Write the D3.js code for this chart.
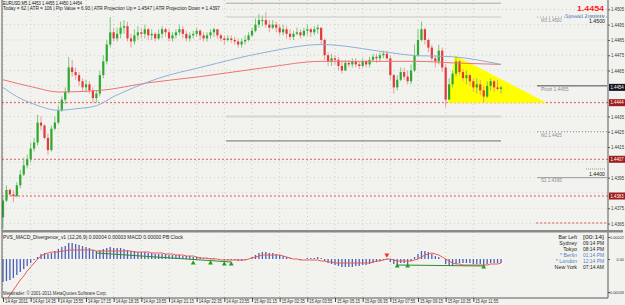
<!DOCTYPE html>
<html>
<head>
<meta charset="utf-8">
<script src="https://cdn.jsdelivr.net/npm/d3@7"></script>
<style>
  body { margin: 0; background: #f2f3ef; }
  svg { display: block; font-family: "Liberation Sans", Arial, sans-serif; }
</style>
</head>
<body>
<svg id="chart" width="625" height="305"></svg>
<script>
// EURUSD M5 bars
const opens = [1.4369,1.4380,1.4387,1.4384,1.4383,1.4390,1.4397,1.4403,1.4407,1.4414,
  1.4418,1.4431,1.4429,1.4421,1.4413,1.4427,1.4431,1.4439,1.4446,1.4451,
  1.4467,1.4464,1.4462,1.4458,1.4454,1.4456,1.4452,1.4447,1.4450,1.4462,
  1.4471,1.4482,1.4490,1.4486,1.4489,1.4493,1.4494,1.4486,1.4484,1.4488,
  1.4490,1.4489,1.4492,1.4488,1.4489,1.4486,1.4489,1.4492,1.4490,1.4486,
  1.4488,1.4490,1.4492,1.4489,1.4486,1.4488,1.4489,1.4491,1.4488,1.4486,
  1.4488,1.4490,1.4492,1.4488,1.4486,1.4485,1.4486,1.4485,1.4484,1.4482,
  1.4484,1.4485,1.4488,1.4491,1.4495,1.4498,1.4498,1.4495,1.4493,1.4495,
  1.4493,1.4490,1.4492,1.4489,1.4487,1.4489,1.4490,1.4488,1.4491,1.4492,
  1.4490,1.4492,1.4493,1.4485,1.4475,1.4471,1.4473,1.4472,1.4468,1.4465,
  1.4470,1.4469,1.4471,1.4469,1.4468,1.4471,1.4469,1.4472,1.4474,1.4473,
  1.4475,1.4476,1.4473,1.4462,1.4454,1.4459,1.4464,1.4461,1.4458,1.4465,
  1.4475,1.4485,1.4492,1.4485,1.4480,1.4473,1.4471,1.4478,1.4467,1.4446,
  1.4456,1.4463,1.4471,1.4464,1.4460,1.4462,1.4458,1.4454,1.4456,1.4452,
  1.4448,1.4455,1.4458,1.4454,1.4453];
const highs = [1.4382,1.4390,1.4388,1.4387,1.4392,1.4400,1.4408,1.4410,1.4418,1.4421,
  1.4436,1.4435,1.4430,1.4424,1.4429,1.4435,1.4442,1.4448,1.4454,1.4474,
  1.4472,1.4467,1.4464,1.4460,1.4459,1.4458,1.4454,1.4452,1.4465,1.4475,
  1.4485,1.4500,1.4493,1.4493,1.4497,1.4498,1.4497,1.4489,1.4492,1.4494,
  1.4493,1.4495,1.4493,1.4492,1.4490,1.4492,1.4494,1.4493,1.4492,1.4490,
  1.4492,1.4495,1.4494,1.4491,1.4490,1.4491,1.4493,1.4492,1.4490,1.4490,
  1.4492,1.4493,1.4492,1.4489,1.4488,1.4488,1.4488,1.4487,1.4486,1.4486,
  1.4488,1.4490,1.4493,1.4499,1.4502,1.4501,1.4503,1.4498,1.4498,1.4497,
  1.4495,1.4495,1.4494,1.4492,1.4491,1.4493,1.4492,1.4493,1.4495,1.4493,
  1.4494,1.4495,1.4493,1.4486,1.4477,1.4476,1.4475,1.4474,1.4472,1.4472,
  1.4472,1.4473,1.4473,1.4471,1.4473,1.4472,1.4474,1.4476,1.4476,1.4477,
  1.4478,1.4478,1.4475,1.4463,1.4462,1.4467,1.4467,1.4465,1.4469,1.4482,
  1.4492,1.4497,1.4493,1.4486,1.4482,1.4475,1.4482,1.4480,1.4469,1.4460,
  1.4465,1.4474,1.4472,1.4466,1.4465,1.4463,1.4460,1.4460,1.4459,1.4455,
  1.4458,1.4460,1.4459,1.4459,1.4455];
const lows = [1.4362,1.4379,1.4383,1.4379,1.4382,1.4388,1.4396,1.4401,1.4405,1.4412,
  1.4416,1.4426,1.4420,1.4410,1.4412,1.4426,1.4430,1.4438,1.4443,1.4450,
  1.4461,1.4459,1.4455,1.4451,1.4451,1.4450,1.4444,1.4444,1.4448,1.4460,
  1.4469,1.4480,1.4484,1.4484,1.4486,1.4489,1.4484,1.4480,1.4482,1.4485,
  1.4486,1.4486,1.4485,1.4485,1.4484,1.4485,1.4486,1.4487,1.4484,1.4484,
  1.4486,1.4488,1.4486,1.4484,1.4484,1.4486,1.4487,1.4485,1.4484,1.4484,
  1.4486,1.4487,1.4486,1.4484,1.4482,1.4484,1.4483,1.4482,1.4480,1.4480,
  1.4482,1.4484,1.4487,1.4490,1.4493,1.4494,1.4493,1.4490,1.4492,1.4490,
  1.4488,1.4488,1.4486,1.4485,1.4485,1.4488,1.4486,1.4487,1.4488,1.4487,
  1.4488,1.4489,1.4482,1.4472,1.4468,1.4468,1.4469,1.4465,1.4463,1.4465,
  1.4467,1.4467,1.4467,1.4466,1.4467,1.4467,1.4467,1.4471,1.4470,1.4471,
  1.4473,1.4472,1.4459,1.4450,1.4452,1.4458,1.4459,1.4456,1.4456,1.4464,
  1.4474,1.4484,1.4482,1.4477,1.4471,1.4467,1.4469,1.4464,1.4441,1.4447,
  1.4454,1.4461,1.4462,1.4458,1.4456,1.4455,1.4451,1.4450,1.4449,1.4444,
  1.4447,1.4452,1.4451,1.4452,1.4450];
const closes = [1.4380,1.4387,1.4384,1.4383,1.4390,1.4397,1.4403,1.4407,1.4414,1.4418,
  1.4431,1.4429,1.4421,1.4413,1.4427,1.4431,1.4439,1.4446,1.4451,1.4467,
  1.4464,1.4462,1.4458,1.4454,1.4456,1.4452,1.4447,1.4450,1.4462,1.4471,
  1.4482,1.4490,1.4486,1.4489,1.4493,1.4494,1.4486,1.4484,1.4488,1.4490,
  1.4489,1.4492,1.4488,1.4489,1.4486,1.4489,1.4492,1.4490,1.4486,1.4488,
  1.4490,1.4492,1.4489,1.4486,1.4488,1.4489,1.4491,1.4488,1.4486,1.4488,
  1.4490,1.4492,1.4488,1.4486,1.4485,1.4486,1.4485,1.4484,1.4482,1.4484,
  1.4485,1.4488,1.4491,1.4495,1.4498,1.4498,1.4495,1.4493,1.4495,1.4493,
  1.4490,1.4492,1.4489,1.4487,1.4489,1.4490,1.4488,1.4491,1.4492,1.4490,
  1.4492,1.4493,1.4485,1.4475,1.4471,1.4473,1.4472,1.4468,1.4465,1.4470,
  1.4469,1.4471,1.4469,1.4468,1.4471,1.4469,1.4472,1.4474,1.4473,1.4475,
  1.4476,1.4473,1.4462,1.4454,1.4459,1.4464,1.4461,1.4458,1.4465,1.4475,
  1.4485,1.4492,1.4485,1.4480,1.4473,1.4471,1.4478,1.4467,1.4446,1.4456,
  1.4463,1.4471,1.4464,1.4460,1.4462,1.4458,1.4454,1.4456,1.4452,1.4448,
  1.4455,1.4458,1.4454,1.4453,1.4454];

// moving averages as [bar, price]
const blueMA = [[0,1.4454],[4,1.4448],[9,1.4443],[16,1.4439],[21,1.4440],[27,1.4442],[32,1.4448],
  [38,1.4454],[45,1.4460],[57,1.4467],[76,1.4477],[92,1.4482],[111,1.4477],[118,1.4475],[130,1.4474],[144,1.4469]];
const redMA = [[0,1.4459],[9,1.4454],[16,1.4451],[28,1.4452],[42,1.4457],[57,1.4461],[76,1.4467],
  [92,1.4471],[120,1.4471],[130,1.4470],[144,1.4469]];

// yellow triangle pattern [bar, price]
const triangle = [[128.6,1.4444],[130.6,1.4475],[157.2,1.4444]];

const priceTicks = [1.4505,1.4495,1.4485,1.4475,1.4465,1.4455,1.4445,1.4435,1.4425,1.4415,1.4405,1.4395,1.4385,1.4375,1.4365];
const timeIdx = [0,8,16,24,32,40,48,56,64,72,80,88,96,104,112,120,128,136];
const timeLabels = ["14 Apr 2011","14 Apr 14:35","14 Apr 15:55","14 Apr 17:15","14 Apr 18:35","14 Apr 19:55",
  "14 Apr 21:15","14 Apr 22:35","14 Apr 23:55","15 Apr 01:15","15 Apr 02:35","15 Apr 03:55",
  "15 Apr 05:15","15 Apr 06:35","15 Apr 07:55","15 Apr 09:15","15 Apr 10:35","15 Apr 11:55"];

const bid = 1.4454;
const redLevels = [1.4444, 1.4407, 1.4383];
const todayLevels = [1.4509, 1.4500, 1.4435, 1.4419];
const pivotNames = ["M3", "Pivot", "M2", "S1"];
const pivotValues = [1.4500, 1.4455, 1.4425, 1.4395];
const roundLevels = [1.4500, 1.4400];

// MACD panel
const macdHist = [-0.00023,-0.00022,-0.00021,-0.00019,-0.00016,-0.00013,-0.00010,-0.00007,-0.00004,-0.00001,
  0.00002,0.00005,0.00006,0.00005,0.00006,0.00008,0.00010,0.00012,0.00013,0.00016,
  0.00016,0.00015,0.00014,0.00013,0.00012,0.00011,0.00009,0.00008,0.00009,0.00010,
  0.00011,0.00012,0.00011,0.00011,0.00011,0.00010,0.00009,0.00008,0.00008,0.00007,
  0.00007,0.00007,0.00006,0.00006,0.00005,0.00005,0.00005,0.00005,0.00004,0.00004,
  0.00004,0.00004,0.00003,0.00003,0.00003,0.00002,0.00002,0.00002,0.00001,0.00001,
  0.00001,0.00001,0,0,-0.00001,-0.00001,-0.00001,-0.00001,-0.00002,-0.00002,
  -0.00001,0,0.00002,0.00004,0.00006,0.00007,0.00007,0.00006,0.00006,0.00005,
  0.00004,0.00003,0.00002,0.00001,0,0,-0.00001,0,0.00001,0.00001,
  0.00001,0.00002,0.00001,-0.00002,-0.00004,-0.00005,-0.00006,-0.00007,-0.00008,-0.00008,
  -0.00008,-0.00008,-0.00007,-0.00007,-0.00006,-0.00006,-0.00005,-0.00004,-0.00003,-0.00002,
  -0.00001,-0.00001,-0.00003,-0.00005,-0.00006,-0.00004,-0.00004,-0.00006,-0.00002,0.00002,
  0.00005,0.00008,0.00008,0.00007,0.00005,0.00003,0.00002,0,-0.00005,-0.00007,
  -0.00007,-0.00005,-0.00004,-0.00004,-0.00004,-0.00004,-0.00005,-0.00005,-0.00005,-0.00007,
  -0.00005,-0.00004,-0.00004,-0.00004,-0.00004];
const macdSignal = [-0.00046,-0.00041,-0.00036,-0.00031,-0.00026,-0.00021,-0.00017,-0.00012,-0.00008,-0.00004,
  0,0.00003,0.00005,0.00006,0.00007,0.00007,0.00007,0.00008,0.00008,0.00009,
  0.00009,0.00009,0.00009,0.00009,0.00009,0.00009,0.00009,0.00008,0.00008,0.00008,
  0.00008,0.00008,0.00008,0.00008,0.00008,0.00008,0.00008,0.00008,0.00007,0.00007,
  0.00007,0.00007,0.00007,0.00006,0.00006,0.00006,0.00006,0.00005,0.00005,0.00005,
  0.00004,0.00004,0.00004,0.00003,0.00003,0.00003,0.00002,0.00001,0.00001,0.00001,
  0,0,0,-0.00001,-0.00001,-0.00001,-0.00001,-0.00001,-0.00001,-0.00001,
  -0.00001,0,0.00001,0.00002,0.00003,0.00004,0.00004,0.00004,0.00004,0.00004,
  0.00004,0.00003,0.00002,0.00001,0,0,-0.00001,-0.00001,-0.00001,-0.00001,
  -0.00001,-0.00001,-0.00002,-0.00002,-0.00003,-0.00003,-0.00004,-0.00004,-0.00004,-0.00004,
  -0.00004,-0.00004,-0.00004,-0.00004,-0.00004,-0.00004,-0.00004,-0.00003,-0.00002,-0.00002,
  -0.00001,0,0,-0.00001,-0.00002,-0.00002,-0.00002,-0.00002,-0.00002,-0.00001,
  0,0.00002,0.00004,0.00005,0.00006,0.00005,0.00004,0.00002,0,-0.00002,
  -0.00004,-0.00005,-0.00005,-0.00006,-0.00006,-0.00006,-0.00006,-0.00006,-0.00006,-0.00006,
  -0.00006,-0.00005,-0.00005,-0.00005,-0.00004];
const divLines = [[[27,0.00006],[66,-0.00003]], [[114,-0.00006],[139,-0.00007]]];
const greenArrows = [[55,-0.00003],[60,-0.00003],[64,-0.00004],[66,-0.00004],[114,-0.00006],[117,-0.00006],[139,-0.00007]];
const redArrows = [[111,0.00003]];
const macdTicks = [0.00022, 0, -0.00033];

const clockNames = ["Bar Left","Sydney","Tokyo","* Berlin","* London","New York"];
const clockTimes = ["[00:14]","09:14 PM","08:14 PM","01:14 PM","12:14 PM","07:14 AM"];

const svg = d3.select("#chart");
const plotL = 2, plotR = 608, mainB = 230, subT = 233, subB = 298;

const x = d3.scaleLinear().domain([0, 144]).range([3, 501]);
const y = d3.scaleLinear().domain([1.44, 1.45]).range([170, 17]);
const yM = d3.scaleLinear().domain([0, 0.0001]).range([259, 249]);

function txt(g, tx, ty, s, o = {}) {
  const t = g.append("text").attr("x", tx).attr("y", ty).text(s)
    .attr("font-size", o.size || 5)
    .attr("fill", o.fill || "#333")
    .attr("text-anchor", o.anchor || "start");
  if (o.weight) t.attr("font-weight", o.weight);
  if (o.w) t.attr("textLength", o.w).attr("lengthAdjust", "spacingAndGlyphs");
  return t;
}

svg.append("rect").attr("width", 625).attr("height", 305).attr("fill", "#f2f3ef");

const defs = svg.append("defs");
defs.append("clipPath").attr("id", "clipMain").append("rect")
  .attr("x", plotL).attr("y", 0).attr("width", plotR - plotL).attr("height", mainB);
defs.append("clipPath").attr("id", "clipSub").append("rect")
  .attr("x", plotL).attr("y", subT).attr("width", plotR - plotL).attr("height", subB - subT);

// dotted grid
const grid = svg.append("g").attr("stroke", "#cdd0c9").attr("stroke-dasharray", "1,3");
grid.selectAll(".hg").data(priceTicks).join("line")
  .attr("x1", plotL).attr("x2", plotR).attr("y1", d => y(d)).attr("y2", d => y(d));
grid.selectAll(".vg").data(timeIdx).join("line")
  .attr("x1", d => x(d)).attr("x2", d => x(d)).attr("y1", 0).attr("y2", subB);

const main = svg.append("g").attr("clip-path", "url(#clipMain)");

// red dashed levels
main.selectAll(".red-level").data(redLevels).join("line")
  .attr("x1", plotL).attr("x2", plotR).attr("y1", d => y(d)).attr("y2", d => y(d))
  .attr("stroke", "#e25a5a").attr("stroke-dasharray", "2,2");
main.append("line").attr("x1", 536).attr("x2", plotR)
  .attr("y1", y(1.43654)).attr("y2", y(1.43654))
  .attr("stroke", "#e25a5a").attr("stroke-dasharray", "2,2");

// today's levels
const todayColors = ["#a8aaa5", "#c6c8c3", "#d4d6d1", "#6d6e6a"];
const todayWidths = [1, 1, 2, 1];
main.selectAll(".today").data(todayLevels).join("line")
  .attr("x1", x(64.5)).attr("x2", x(144))
  .attr("y1", d => y(d)).attr("y2", d => y(d))
  .attr("stroke", (d, i) => todayColors[i]).attr("stroke-width", (d, i) => todayWidths[i]);

// pivot set on the right
const pivStroke = ["#9a9a9a", "#4c4d55", "#8a8a8a", "#9a9a9a"];
const pivDash = ["1,2", null, "1,2", null];
pivotValues.forEach((v, i) => {
  main.append("line").attr("x1", 537).attr("x2", 607).attr("y1", y(v)).attr("y2", y(v))
    .attr("stroke", pivStroke[i]).attr("stroke-dasharray", pivDash[i]);
  const s = pivotNames[i] + " " + d3.format(".4f")(v);
  txt(main, 541, y(v) + 4.8, s, { size: 5, fill: "#8a8a8a", w: s.length * 2.3 });
});

// round number markers
roundLevels.forEach(v => {
  main.append("line").attr("x1", 586).attr("x2", 606).attr("y1", y(v) - 1).attr("y2", y(v) - 1)
    .attr("stroke", "#8aa07a").attr("stroke-dasharray", "1,1");
  txt(main, 605, y(v) + 5.5, d3.format(".4f")(v), { size: 5.5, fill: "#111", anchor: "end", w: 16 });
});

// yellow triangle
main.append("path")
  .attr("d", d3.line().x(d => x(d[0])).y(d => y(d[1]))(triangle) + "Z")
  .attr("fill", "#ffff00");

// candles
const idx = closes.map((c, i) => i);
main.selectAll(".wick").data(idx).join("line")
  .attr("x1", i => x(i)).attr("x2", i => x(i))
  .attr("y1", i => y(highs[i])).attr("y2", i => y(lows[i]))
  .attr("stroke", i => closes[i] >= opens[i] ? "#7cc77c" : "#ef9a9a")
  .attr("stroke-width", 1);
main.selectAll(".body").data(idx).join("rect")
  .attr("x", i => x(i) - 1.1).attr("width", 2.2)
  .attr("y", i => y(Math.max(opens[i], closes[i])))
  .attr("height", i => Math.max(1, Math.abs(y(opens[i]) - y(closes[i]))))
  .attr("fill", i => closes[i] >= opens[i] ? "#2ea82e" : "#e03a3a");

// moving averages
const maLine = d3.line().x(d => x(d[0])).y(d => y(d[1])).curve(d3.curveMonotoneX);
main.append("path").attr("d", maLine(redMA)).attr("fill", "none").attr("stroke", "#ee7474").attr("stroke-width", 1);
main.append("path").attr("d", maLine(blueMA)).attr("fill", "none").attr("stroke", "#90afd6").attr("stroke-width", 1);

// header texts
txt(svg, 3, 4.8, "EURUSD,M5  1.4453 1.4455 1.4450 1.4454", { size: 4.8, fill: "#111", w: 79 });
txt(svg, 3, 9.8, "Today = 62  |  ATR = 106  |  Pip Value = 6.93  |  ATR Projection Up = 1.4547  |  ATR Projection Down = 1.4397",
  { size: 4.8, fill: "#222", w: 217 });
txt(svg, 604, 11, d3.format(".4f")(bid), { size: 8, fill: "#ff1c1c", anchor: "end", weight: "bold", w: 27 });
txt(svg, 604, 17.5, "Spread  2 points", { size: 4.6, fill: "#6e8fc6", anchor: "end", w: 39 });

// MACD sub window
const sub = svg.append("g").attr("clip-path", "url(#clipSub)");
sub.selectAll(".hist").data(macdHist).join("line")
  .attr("x1", (d, i) => x(i)).attr("x2", (d, i) => x(i))
  .attr("y1", yM(0)).attr("y2", d => yM(d))
  .attr("stroke", "#4a5fb8").attr("stroke-width", 1.3);
sub.append("path")
  .attr("d", d3.line().x((d, i) => x(i)).y(d => yM(d))(macdSignal))
  .attr("fill", "none").attr("stroke", "#ec5a52").attr("stroke-width", 1);
divLines.forEach(seg => {
  sub.append("path").attr("d", d3.line().x(d => x(d[0])).y(d => yM(d[1]))(seg))
    .attr("fill", "none").attr("stroke", "#2e8b2e").attr("stroke-width", 1);
});
sub.selectAll(".garrow").data(greenArrows).join("path")
  .attr("transform", d => `translate(${x(d[0])},${yM(d[1]) + 1})`)
  .attr("d", d3.symbol(d3.symbolTriangle, 10)())
  .attr("fill", "#22a022");
sub.selectAll(".rarrow").data(redArrows).join("path")
  .attr("transform", d => `translate(${x(d[0])},${yM(d[1]) - 1}) rotate(180)`)
  .attr("d", d3.symbol(d3.symbolTriangle, 10)())
  .attr("fill", "#ff2a2a");

txt(svg, 3, 238.5, "PVS_MACD_Divergence_v1 (12,26,9)  0.00004  0.00003  MACD  0.00000  PB Clock", { size: 4.8, fill: "#222", w: 180 });

// clock panel
clockNames.forEach((n, i) => {
  const col = n.startsWith("*") ? "#4f7fc4" : "#222";
  txt(svg, 577, 238.5 + i * 6, n, { size: 5.3, fill: col, anchor: "end" });
  txt(svg, 583, 238.5 + i * 6, clockTimes[i], { size: 5.3, fill: col, w: 21 });
});

txt(svg, 3, 295, "Metatrader: \u00a9 2001-2011 MetaQuotes Software Corp.", { size: 4.5, fill: "#333", w: 104 });

// frame
const frame = svg.append("g").attr("stroke", "#5a5a5a").attr("fill", "none");
frame.append("line").attr("x1", plotL).attr("x2", plotL).attr("y1", 0).attr("y2", subB);
frame.append("line").attr("x1", plotR).attr("x2", plotR).attr("y1", 0).attr("y2", subB);
frame.append("line").attr("x1", plotL).attr("x2", plotR).attr("y1", subB).attr("y2", subB);
svg.append("rect").attr("x", plotL).attr("y", mainB).attr("width", 623 - plotL).attr("height", 2.5).attr("fill", "#8a8a8a");

// price tags on the axis; tick labels under a tag are left out, as the terminal does
const tagValues = [bid].concat(redLevels);
const tagFills = ["#15151f"].concat(redLevels.map(() => "#a11c1c"));
const freeTicks = priceTicks.filter(p => tagValues.every(t => Math.abs(y(p) - y(t)) > 6.5));

// price axis
const yAxis = svg.append("g").attr("transform", `translate(${plotR},0)`)
  .call(d3.axisRight(y).tickValues(freeTicks).tickSize(2).tickFormat(d3.format(".4f")));
yAxis.select(".domain").remove();
yAxis.selectAll("line").attr("stroke", "#555");
yAxis.selectAll("text").attr("font-size", 5).attr("fill", "#333").attr("x", 3)
  .attr("textLength", 13).attr("lengthAdjust", "spacingAndGlyphs");

tagValues.forEach((v, i) => {
  svg.append("rect").attr("x", plotR + 1).attr("y", y(v) - 3.5).attr("width", 16).attr("height", 7).attr("fill", tagFills[i]);
  txt(svg, plotR + 2.5, y(v) + 1.8, d3.format(".4f")(v), { size: 5, fill: "#fff", w: 13 });
});

// MACD axis, labels right-aligned so they stay inside the window
const mAxis = svg.append("g").attr("transform", `translate(${plotR},0)`)
  .call(d3.axisRight(yM).tickValues(macdTicks).tickSize(2).tickFormat(d => d === 0 ? "0.00" : d.toFixed(5)));
mAxis.select(".domain").remove();
mAxis.selectAll("line").attr("stroke", "#555");
mAxis.selectAll("text").attr("font-size", 3.9).attr("fill", "#333")
  .attr("text-anchor", "end").attr("x", 16);

// time axis
const tAxis = svg.append("g").attr("transform", `translate(0,${subB})`)
  .call(d3.axisBottom(x).tickValues(timeIdx).tickSize(4).tickFormat((d, i) => timeLabels[i]));
tAxis.select(".domain").remove();
tAxis.selectAll("line").attr("stroke", "#444");
tAxis.selectAll("text").attr("font-size", 4.5).attr("fill", "#333")
  .attr("text-anchor", "start").attr("x", 1.5).attr("y", 2)
  .attr("textLength", 23).attr("lengthAdjust", "spacingAndGlyphs");
</script>
</body>
</html>
